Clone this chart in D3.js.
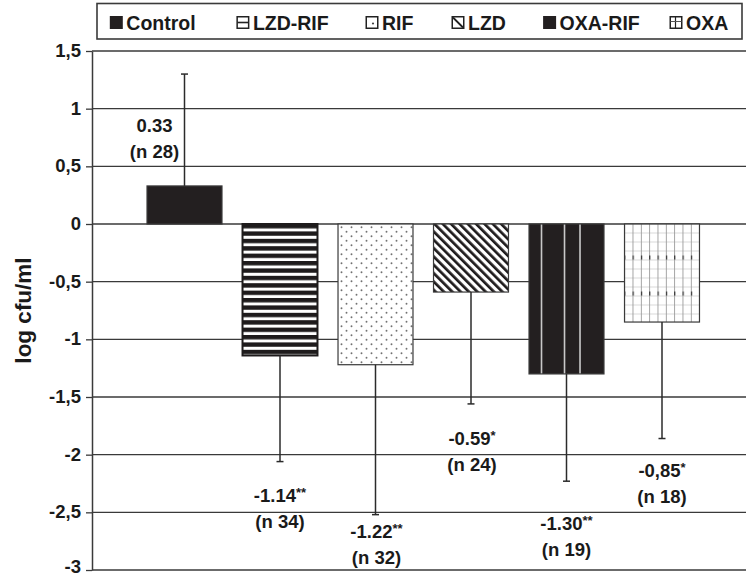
<!DOCTYPE html>
<html>
<head>
<meta charset="utf-8">
<script src="https://cdn.jsdelivr.net/npm/d3@7/dist/d3.min.js"></script>
<style>
  html, body { margin: 0; padding: 0; background: #fff; }
  svg { display: block; font-family: "Liberation Sans", Arial, Helvetica, sans-serif; }
</style>
</head>
<body>
<svg id="chart" width="746" height="577"></svg>
<script>
// Treatment groups, mean change in log cfu/ml, SD, and group sizes
const groups = ["Control", "LZD-RIF", "RIF", "LZD", "OXA-RIF", "OXA"];
const meanChange = [0.33, -1.14, -1.22, -0.59, -1.30, -0.85];
const sdChange = [0.97, 0.92, 1.30, 0.97, 0.93, 1.01];
const groupN = [28, 34, 32, 24, 19, 18];
const valueText = ["0.33", "-1.14", "-1.22", "-0.59", "-1.30", "-0,85"];
const significance = ["", "**", "**", "*", "**", "*"];
const tickValues = [1.5, 1, 0.5, 0, -0.5, -1, -1.5, -2, -2.5, -3];
const tickLabels = ["1,5", "1", "0,5", "0", "-0,5", "-1", "-1,5", "-2", "-2,5", "-3"];
const yTitle = "log cfu/ml";

// Fill style for each group
const fillKind = ["solid", "hstripe", "dots", "diag", "solidlines", "grid"];

// Layout
const plot = { left: 92, right: 746, top: 51, bottom: 570 };
const barsStart = 136.75, barsEnd = 709.75;
const legendBox = { x: 97, y: 3.5, w: 645, h: 35.5 };
const legendTextX = [126.3, 252.9, 382, 468, 559.6, 686];
// label placement: [dx from bar centre, first-line baseline offset from error end]
const labelOffset = [[-30, 58], [0, 40], [1, 23], [1, 41], [0, 49], [0, 38]];
const ink = "#2b2b2b";

const svg = d3.select("#chart");

const y = d3.scaleLinear().domain([-3, 1.5]).range([plot.bottom, plot.top]);
const x = d3.scaleBand().domain(groups).range([barsStart, barsEnd])
  .paddingInner(0.215).paddingOuter(0.1075);
const bw = x.bandwidth();

// ---------- patterns ----------
const defs = svg.append("defs");

// horizontal stripes
const ph = defs.append("pattern").attr("id", "p-hstripe").attr("patternUnits", "userSpaceOnUse")
  .attr("x", 0).attr("y", y(0)).attr("width", 10).attr("height", 7.4);
ph.append("rect").attr("width", 10).attr("height", 7.4).attr("fill", "#fff");
ph.append("rect").attr("width", 10).attr("height", 4.4).attr("fill", "#1e1b1c");

// staggered dots
const pd = defs.append("pattern").attr("id", "p-dots").attr("patternUnits", "userSpaceOnUse")
  .attr("x", x("RIF") + 1).attr("y", y(0) + 1).attr("width", 10).attr("height", 9);
pd.append("rect").attr("width", 10).attr("height", 9).attr("fill", "#fff");
pd.append("circle").attr("cx", 2.5).attr("cy", 2.2).attr("r", 0.95).attr("fill", "#707070");
pd.append("circle").attr("cx", 7.5).attr("cy", 6.7).attr("r", 0.95).attr("fill", "#707070");

// diagonal hatching
const pg = defs.append("pattern").attr("id", "p-diag").attr("patternUnits", "userSpaceOnUse")
  .attr("width", 5.9).attr("height", 10).attr("patternTransform", "rotate(-45)");
pg.append("rect").attr("width", 5.9).attr("height", 10).attr("fill", "#fff");
pg.append("rect").attr("width", 2.7).attr("height", 10).attr("fill", "#1e1b1c");

// dark fill with light vertical rules
const pv = defs.append("pattern").attr("id", "p-solidlines").attr("patternUnits", "userSpaceOnUse")
  .attr("x", x("OXA-RIF")).attr("y", 0).attr("width", bw).attr("height", 10);
pv.append("rect").attr("width", bw).attr("height", 10).attr("fill", "#231f20");
[12.5, 35.5, 51].forEach(o => pv.append("rect").attr("x", o - 0.8).attr("width", 1.6).attr("height", 10).attr("fill", "#c9c9c9"));

// fine grid with dark ticks
const gw = 8.33, gh = 36;
const pq = defs.append("pattern").attr("id", "p-grid").attr("patternUnits", "userSpaceOnUse")
  .attr("x", x("OXA") + 8).attr("y", y(0) + 31.5).attr("width", gw).attr("height", gh);
pq.append("rect").attr("width", gw).attr("height", gh).attr("fill", "#fff");
[0, 9, 18, 27].forEach(v => pq.append("rect").attr("x", 0).attr("y", v + 4).attr("width", gw).attr("height", 0.8).attr("fill", "#cfcfcf"));
pq.append("rect").attr("x", 0).attr("y", 0).attr("width", 0.9).attr("height", gh).attr("fill", "#9a9a9a");
pq.append("rect").attr("x", -0.3).attr("y", 0).attr("width", 1.5).attr("height", 4).attr("fill", "#222");

const fillOf = k => k === "solid" ? "#231f20" : `url(#p-${k})`;

// ---------- gridlines & axis ----------
svg.append("g").selectAll("line").data(tickValues).join("line")
  .attr("x1", plot.left).attr("x2", plot.right)
  .attr("y1", d => y(d)).attr("y2", d => y(d))
  .attr("stroke", "#3a3a3a").attr("stroke-width", 1.3);

const axis = d3.axisLeft(y).tickValues(tickValues)
  .tickFormat((d, i) => tickLabels[i]).tickSize(6).tickSizeOuter(0).tickPadding(5);
const ag = svg.append("g").attr("transform", `translate(${plot.left},0)`).call(axis);
ag.select(".domain").attr("stroke", "#3a3a3a").attr("stroke-width", 1.5);
ag.selectAll(".tick line").attr("stroke", "#3a3a3a").attr("stroke-width", 1.3);
ag.selectAll(".tick text").attr("fill", "#1a1a1a").attr("font-size", 18.5)
  .attr("dy", "0.3em")
  .attr("font-weight", "bold").attr("font-family", "'Liberation Sans', Arial, sans-serif");
// keep the lowest label inside the canvas
ag.selectAll(".tick text").filter(d => d === d3.min(tickValues)).attr("y", -3);

svg.append("text")
  .attr("transform", `translate(31,${(253 + 368) / 2}) rotate(-90)`)
  .attr("text-anchor", "middle").attr("font-size", 22.5).attr("font-weight", "bold")
  .attr("fill", "#1a1a1a").text(yTitle);

// ---------- bars ----------
const rows = groups.map((g, i) => ({
  g, i, mean: meanChange[i], sd: sdChange[i], n: groupN[i],
  end: meanChange[i] >= 0 ? meanChange[i] + sdChange[i] : meanChange[i] - sdChange[i]
}));

svg.append("g").selectAll("rect").data(rows).join("rect")
  .attr("x", d => x(d.g))
  .attr("y", d => y(Math.max(0, d.mean)))
  .attr("width", bw)
  .attr("height", d => Math.abs(y(d.mean) - y(0)))
  .attr("fill", d => fillOf(fillKind[d.i]))
  .attr("stroke", d => fillKind[d.i] === "hstripe" ? "#1e1b1c" : "#3a3a3a")
  .attr("stroke-width", d => fillKind[d.i] === "hstripe" ? 2 : 1.2);

// ---------- error bars ----------
const eg = svg.append("g").attr("stroke", ink).attr("stroke-width", 1.5);
eg.selectAll("line.stem").data(rows).join("line").attr("class", "stem")
  .attr("x1", d => x(d.g) + bw / 2).attr("x2", d => x(d.g) + bw / 2)
  .attr("y1", d => y(d.mean)).attr("y2", d => y(d.end));
eg.selectAll("line.cap").data(rows).join("line").attr("class", "cap")
  .attr("x1", d => x(d.g) + bw / 2 - 3.5).attr("x2", d => x(d.g) + bw / 2 + 3.5)
  .attr("y1", d => y(d.end)).attr("y2", d => y(d.end));

// ---------- value labels ----------
const lg = svg.append("g").attr("font-size", 18.5).attr("font-weight", "bold")
  .attr("fill", "#1a1a1a").attr("text-anchor", "middle");
rows.forEach(d => {
  const [dx, off] = labelOffset[d.i];
  const cx = x(d.g) + bw / 2 + dx;
  const base = y(d.end) + off;
  const t1 = lg.append("text").attr("x", cx).attr("y", base);
  t1.append("tspan").text(valueText[d.i]);
  if (significance[d.i]) {
    t1.append("tspan").attr("font-size", 13).attr("dy", -5).text(significance[d.i]);
  }
  lg.append("text").attr("x", cx).attr("y", base + 26).text(`(n ${d.n})`);
});

// ---------- legend ----------
const leg = svg.append("g");
leg.append("rect").attr("x", legendBox.x).attr("y", legendBox.y)
  .attr("width", legendBox.w).attr("height", legendBox.h)
  .attr("fill", "#fff").attr("stroke", "#3a3a3a").attr("stroke-width", 1.6);

groups.forEach((g, i) => {
  const tx = legendTextX[i];
  const sx = tx - 16.5, sy = 16, s = 13;
  const it = leg.append("g");
  const kind = fillKind[i];
  if (kind === "solid" || kind === "solidlines") {
    it.append("rect").attr("x", sx).attr("y", sy).attr("width", s).attr("height", s).attr("fill", "#231f20");
  } else {
    it.append("rect").attr("x", sx + 0.75).attr("y", sy + 0.75).attr("width", s - 1.5).attr("height", s - 1.5)
      .attr("fill", "#fff").attr("stroke", "#222").attr("stroke-width", 1.5);
    if (kind === "hstripe") {
      it.append("line").attr("x1", sx + 1).attr("x2", sx + s - 1).attr("y1", sy + s / 2).attr("y2", sy + s / 2)
        .attr("stroke", "#222").attr("stroke-width", 1.6);
    } else if (kind === "dots") {
      it.append("circle").attr("cx", sx + s / 2 + 1).attr("cy", sy + s / 2 + 1).attr("r", 1.1).attr("fill", "#444");
    } else if (kind === "diag") {
      it.append("line").attr("x1", sx + 1.5).attr("y1", sy + 1.5).attr("x2", sx + s - 1.5).attr("y2", sy + s - 1.5)
        .attr("stroke", "#222").attr("stroke-width", 1.8);
    } else if (kind === "grid") {
      it.append("line").attr("x1", sx + s / 2 - 0.5).attr("x2", sx + s / 2 - 0.5).attr("y1", sy + 1).attr("y2", sy + s - 1)
        .attr("stroke", "#222").attr("stroke-width", 1.2);
      it.append("line").attr("x1", sx + 1).attr("x2", sx + s - 1).attr("y1", sy + s / 2 - 1).attr("y2", sy + s / 2 - 1)
        .attr("stroke", "#555").attr("stroke-width", 1);
    }
  }
  it.append("text").attr("x", tx).attr("y", 29.8).attr("font-size", 19.5).attr("font-weight", "bold")
    .attr("fill", "#1a1a1a").text(g);
});
</script>
</body>
</html>
